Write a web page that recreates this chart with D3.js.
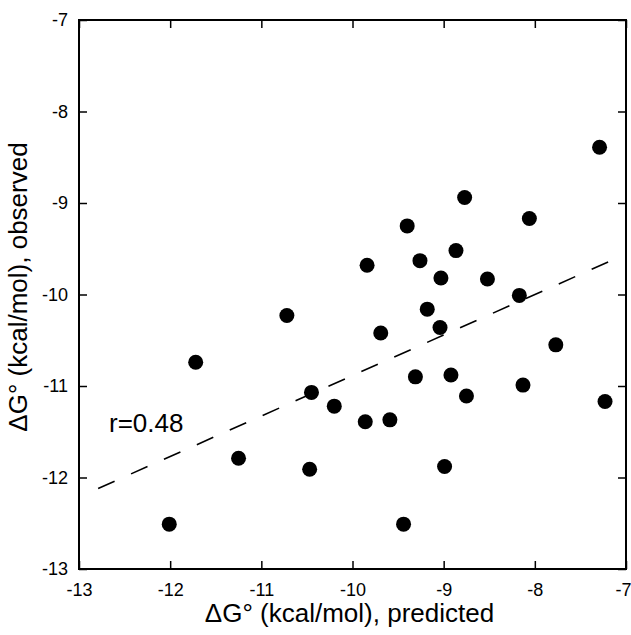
<!DOCTYPE html>
<html>
<head>
<meta charset="utf-8">
<script src="https://cdn.jsdelivr.net/npm/d3@7"></script>
<style>
  body { margin: 0; background: #fff; }
  svg { display: block; font-family: "Liberation Sans", Arial, Helvetica, sans-serif; }
</style>
</head>
<body>
<svg id="chart" width="631" height="635"></svg>
<script>
const predicted = [
  -7.29, -8.77, -8.06, -9.40, -8.865, -9.26, -9.84, -9.03, -8.52, -8.17,
  -9.18, -9.04, -9.69, -7.77, -9.31, -8.92, -8.13, -8.75, -7.23, -10.20,
  -9.86, -9.59, -8.99, -10.72, -11.72, -10.45, -12.01, -11.25, -10.47, -9.44
];
const observed = [
  -8.39, -8.94, -9.17, -9.25, -9.52, -9.63, -9.68, -9.82, -9.83, -10.01,
  -10.16, -10.36, -10.42, -10.55, -10.90, -10.88, -10.99, -11.11, -11.17, -11.22,
  -11.39, -11.37, -11.88, -10.23, -10.74, -11.07, -12.51, -11.79, -11.91, -12.51
];
const fitX = [-12.79, -7.14];
const fitY = [-12.12, -9.62];
const xTicks = [-13, -12, -11, -10, -9, -8, -7];
const yTicks = [-13, -12, -11, -10, -9, -8, -7];
const xTitle = 'ΔG° (kcal/mol), predicted';
const yTitle = 'ΔG° (kcal/mol), observed';
const rLabel = 'r=0.48';

const margin = { top: 20, right: 5, bottom: 66, left: 79 };
const width = 631, height = 635;
const svg = d3.select('#chart');

const x = d3.scaleLinear().domain([-13, -7]).range([margin.left, width - margin.right]);
const y = d3.scaleLinear().domain([-13, -7]).range([height - margin.bottom, margin.top]);

const tickFont = 18;
const fmt = (d) => String(d); // plain hyphen, like the original

// bottom axis, ticks pointing in
svg.append('g')
  .attr('transform', `translate(0,${y(-13)})`)
  .call(d3.axisBottom(x).tickValues(xTicks).tickFormat(fmt)
    .tickSize(-8).tickPadding(14))
  .call((g) => g.select('.domain').remove())
  .call((g) => g.selectAll('.tick line').attr('stroke-width', 1.5))
  .call((g) => g.selectAll('.tick text').attr('font-size', tickFont).attr('fill', '#000')
    .attr('font-family', 'Liberation Sans, Arial, sans-serif'))
  // last label sits against the window edge
  .call((g) => g.selectAll('.tick text').filter((d) => d === -7).attr('dx', -3));

svg.append('g')
  .attr('transform', `translate(${x(-13)},0)`)
  .call(d3.axisLeft(y).tickValues(yTicks).tickFormat(fmt)
    .tickSize(-8).tickPadding(11))
  .call((g) => g.select('.domain').remove())
  .call((g) => g.selectAll('.tick line').attr('stroke-width', 1.5))
  .call((g) => g.selectAll('.tick text').attr('font-size', tickFont).attr('fill', '#000')
    .attr('font-family', 'Liberation Sans, Arial, sans-serif'));

// mirrored top / right ticks without labels
svg.append('g')
  .attr('transform', `translate(0,${y(-7)})`)
  .call(d3.axisTop(x).tickValues(xTicks).tickFormat('').tickSize(-8))
  .call((g) => g.select('.domain').remove())
  .call((g) => g.selectAll('.tick line').attr('stroke-width', 1.5));

svg.append('g')
  .attr('transform', `translate(${x(-7)},0)`)
  .call(d3.axisRight(y).tickValues(yTicks).tickFormat('').tickSize(-8))
  .call((g) => g.select('.domain').remove())
  .call((g) => g.selectAll('.tick line').attr('stroke-width', 1.5));

// frame
svg.append('rect')
  .attr('x', x(-13)).attr('y', y(-7))
  .attr('width', x(-7) - x(-13)).attr('height', y(-13) - y(-7))
  .attr('fill', 'none').attr('stroke', '#000').attr('stroke-width', 2);

// fit line
svg.append('line')
  .attr('x1', x(fitX[0])).attr('y1', y(fitY[0]))
  .attr('x2', x(fitX[1])).attr('y2', y(fitY[1]))
  .attr('stroke', '#000').attr('stroke-width', 1.6)
  .attr('stroke-dasharray', '18,18');

// points
svg.append('g')
  .selectAll('circle')
  .data(predicted.map((p, i) => [p, observed[i]]))
  .join('circle')
  .attr('cx', (d) => x(d[0]))
  .attr('cy', (d) => y(d[1]))
  .attr('r', 7.5)
  .attr('fill', '#000');

// r label
svg.append('text')
  .attr('x', 109).attr('y', 432)
  .attr('font-size', 26)
  .text(rLabel);

// axis titles
svg.append('text')
  .attr('x', (x(-13) + x(-7)) / 2 - 3).attr('y', 622)
  .attr('text-anchor', 'middle')
  .attr('font-size', 26)
  .text(xTitle);

svg.append('text')
  .attr('transform', `translate(27,287) rotate(-90)`)
  .attr('text-anchor', 'middle')
  .attr('font-size', 26)
  .text(yTitle);
</script>
</body>
</html>
